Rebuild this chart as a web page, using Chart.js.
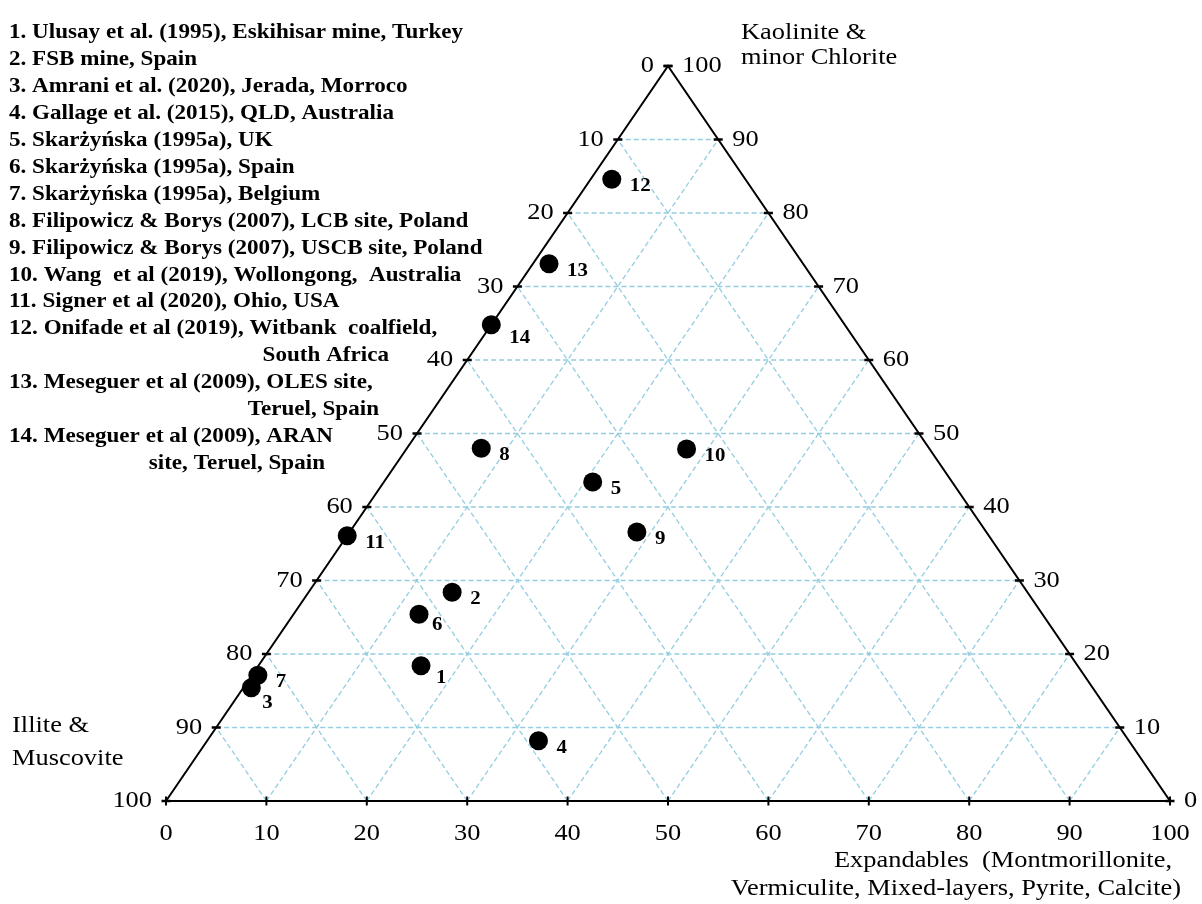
<!DOCTYPE html>
<html>
<head>
<meta charset="utf-8">
<script src="https://cdn.jsdelivr.net/npm/chart.js@4"></script>
<style>
  body { margin: 0; background: #fff; }
</style>
</head>
<body>
<canvas id="ternary" width="1202" height="904"></canvas>
<script>
// DATA: clay mineral composition (%) of each site
var sites = ['1', '2', '3', '4', '5', '6', '7', '8', '9', '10', '11', '12', '13', '14'];
var kaolinite = [18.4, 28.4, 15.4, 8.2, 43.4, 25.4, 17.1, 48.0, 36.6, 47.9, 36.1, 84.6, 73.1, 64.8];
var expandables = [16.2, 14.3, 0.8, 33.0, 20.8, 12.5, 0.6, 7.4, 28.6, 27.9, 0.0, 2.1, 1.6, 0.0];
var illite = [65.4, 57.3, 83.8, 58.8, 35.8, 62.1, 82.3, 44.6, 34.8, 24.2, 63.9, 13.3, 25.3, 35.2];
var tickValues = [0, 10, 20, 30, 40, 50, 60, 70, 80, 90, 100];

var legendLines = [
  '1. Ulusay et al. (1995), Eskihisar mine, Turkey',
  '2. FSB mine, Spain',
  '3. Amrani et al. (2020), Jerada, Morroco',
  '4. Gallage et al. (2015), QLD, Australia',
  '5. Skarżyńska (1995a), UK',
  '6. Skarżyńska (1995a), Spain',
  '7. Skarżyńska (1995a), Belgium',
  '8. Filipowicz & Borys (2007), LCB site, Poland',
  '9. Filipowicz & Borys (2007), USCB site, Poland',
  '10. Wang  et al (2019), Wollongong,  Australia',
  '11. Signer et al (2020), Ohio, USA',
  '12. Onifade et al (2019), Witbank  coalfield,',
  'South Africa',
  '13. Meseguer et al (2009), OLES site,',
  'Teruel, Spain',
  '14. Meseguer et al (2009), ARAN',
  'site, Teruel, Spain'
];

// ternary -> cartesian (x along the base, y = kaolinite)
function toXY(k, e) {
  return { x: e + k / 2, y: k };
}

var gridColor = '#93cde0';
var datasets = [];

// dashed grid
for (var i = 1; i < tickValues.length - 1; i++) {
  var v = tickValues[i];
  datasets.push({ data: [toXY(v, 0), toXY(v, 100 - v)] });       // constant kaolinite
  datasets.push({ data: [toXY(0, v), toXY(100 - v, v)] });       // constant expandables
  datasets.push({ data: [toXY(0, 100 - v), toXY(100 - v, 0)] }); // constant illite
}
datasets.forEach(function (d) {
  d.showLine = true;
  d.pointRadius = 0;
  d.borderColor = gridColor;
  d.borderWidth = 1.3;
  d.borderDash = [5, 3];
  d.order = 3;
});

// triangle
datasets.push({
  data: [toXY(0, 0), toXY(100, 0), toXY(0, 100), toXY(0, 0)],
  showLine: true,
  pointRadius: 0,
  borderColor: '#000',
  borderWidth: 2,
  order: 2
});

// tick marks
var sideTicks = [];
var baseTicks = [];
tickValues.forEach(function (t) {
  sideTicks.push(toXY(t, 0));
  sideTicks.push(toXY(t, 100 - t));
  baseTicks.push(toXY(0, t));
});
datasets.push({
  data: sideTicks,
  pointStyle: 'line',
  pointRadius: 4.5,
  borderColor: '#000',
  pointBorderWidth: 2.5,
  showLine: false,
  order: 1
});
datasets.push({
  data: baseTicks,
  pointStyle: 'line',
  pointRadius: 4.5,
  rotation: 90,
  borderColor: '#000',
  pointBorderWidth: 2,
  showLine: false,
  order: 1
});

// samples
datasets.push({
  data: kaolinite.map(function (k, j) { return toXY(k, expandables[j]); }),
  pointRadius: 9.5,
  backgroundColor: '#000',
  borderColor: '#000',
  borderWidth: 0,
  showLine: false,
  order: 0
});
var sampleIndex = datasets.length - 1;

var labelShift = { '1': [15, 12], '3': [11, 15], '6': [13, 11], '14': [18, 13] };

// the source figure is a little wider than tall, text included
var STRETCH = 1.1;
function wideText(ctx, text, x, y, align) {
  var w = ctx.measureText(text).width * STRETCH;
  var left = x;
  if (align === 'right') left = x - w;
  if (align === 'center') left = x - w / 2;
  ctx.save();
  ctx.textAlign = 'left';
  ctx.translate(left, y);
  ctx.scale(STRETCH, 1);
  ctx.fillText(text, 0, 0);
  ctx.restore();
}

var textPlugin = {
  id: 'ternaryText',
  afterDatasetsDraw: function (chart) {
    var ctx = chart.ctx;
    var sx = chart.scales.x, sy = chart.scales.y;
    function px(p) { return [sx.getPixelForValue(p.x), sy.getPixelForValue(p.y)]; }
    ctx.save();
    ctx.fillStyle = '#000';
    ctx.textBaseline = 'middle';

    // axis numbers
    ctx.font = '24px "Liberation Serif"';
    tickValues.forEach(function (t) {
      var l = px(toXY(t, 0));
      wideText(ctx, String(100 - t), l[0] - 14, l[1], 'right');
      var r = px(toXY(t, 100 - t));
      wideText(ctx, String(t), r[0] + 14, r[1], 'left');
      var b = px(toXY(0, t));
      wideText(ctx, String(t), b[0], b[1] + 33, 'center');
    });

    // corner titles
    wideText(ctx, 'Kaolinite &', 741, 33, 'left');
    wideText(ctx, 'minor Chlorite', 741, 58, 'left');
    wideText(ctx, 'Illite &', 12, 726, 'left');
    wideText(ctx, 'Muscovite', 12, 759, 'left');
    wideText(ctx, 'Expandables  (Montmorillonite,', 1172, 861, 'right');
    wideText(ctx, 'Vermiculite, Mixed-layers, Pyrite, Calcite)', 1181, 889, 'right');

    // sample numbers
    ctx.font = 'bold 19px "Liberation Serif"';
    var meta = chart.getDatasetMeta(sampleIndex);
    meta.data.forEach(function (pt, j) {
      var s = labelShift[sites[j]] || [18, 7];
      wideText(ctx, sites[j], pt.x + s[0], pt.y + s[1], 'left');
    });

    // legend
    ctx.font = 'bold 21px "Liberation Serif"';
    var ends = { 'South Africa': 389, 'Teruel, Spain': 379, 'site, Teruel, Spain': 325 };
    var y = 33;
    legendLines.forEach(function (line) {
      if (/^\d+\./.test(line)) {
        wideText(ctx, line, 9, y, 'left');
      } else {
        wideText(ctx, line, ends[line], y, 'right');
      }
      y += 26.9;
    });
    ctx.restore();
  }
};

new Chart(document.getElementById('ternary').getContext('2d'), {
  type: 'scatter',
  data: { datasets: datasets },
  options: {
    responsive: false,
    animation: false,
    events: [],
    layout: { padding: { left: 166, right: 32, top: 66, bottom: 103 } },
    scales: {
      x: { type: 'linear', min: 0, max: 100, display: false },
      y: { type: 'linear', min: 0, max: 100, display: false }
    },
    plugins: {
      legend: { display: false },
      tooltip: { enabled: false }
    },
    elements: { line: { tension: 0 } },
    clip: false
  },
  plugins: [textPlugin]
});
</script>
</body>
</html>
